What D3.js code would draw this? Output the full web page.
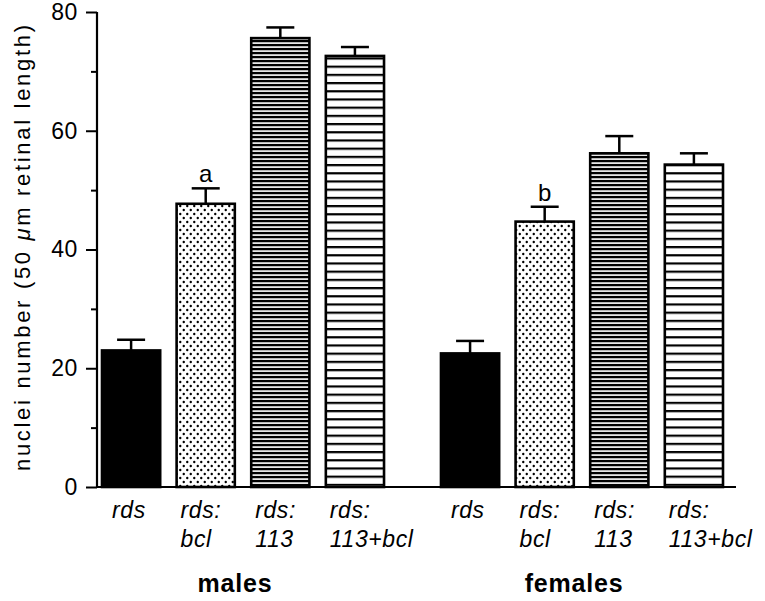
<!DOCTYPE html>
<html>
<head>
<meta charset="utf-8">
<script src="https://cdn.jsdelivr.net/npm/d3@7"></script>
<style>
html,body{margin:0;padding:0;background:#fff;}
svg{display:block;}
</style>
</head>
<body>
<svg id="chart" width="765" height="601"></svg>
<script>
// ---- data ----
const groups = ["males", "females"];
const categories = ["rds", "rds:bcl", "rds:113", "rds:113+bcl"];
const labelLine1 = ["rds", "rds:", "rds:", "rds:"];
const labelLine2 = ["", "bcl", "113", "113+bcl"];
const malesMean = [23.0, 47.7, 75.6, 72.6];
const malesErr = [1.8, 2.6, 1.8, 1.5];
const femalesMean = [22.5, 44.7, 56.2, 54.3];
const femalesErr = [2.1, 2.5, 2.9, 1.9];
const annotations = [["", "a", "", ""], ["", "b", "", ""]];
const yTicks = [0, 20, 40, 60, 80];
const yMinorTicks = [10, 30, 50, 70];
const yTitle = "nuclei number (50 μm retinal length)";

const rows = [];
groups.forEach((g, gi) => {
  const means = gi === 0 ? malesMean : femalesMean;
  const errs = gi === 0 ? malesErr : femalesErr;
  categories.forEach((c, ci) => {
    rows.push({group: g, cat: c, ci, mean: means[ci], err: errs[ci], note: annotations[gi][ci]});
  });
});

const FONT = "Liberation Sans, Arial, Helvetica, sans-serif";
const svg = d3.select("#chart");
const axisX = 97, axisRight = 736;
const y = d3.scaleLinear().domain([0, 80]).range([487, 12]);
const xOuter = d3.scaleBand().domain(groups).range([102, 723]).paddingInner(0.168).paddingOuter(0);
const xInner = d3.scaleBand().domain(categories).range([0, xOuter.bandwidth()]).paddingInner(0.22).paddingOuter(0);

// ---- patterns ----
const defs = svg.append("defs");
const pDots = defs.append("pattern").attr("id", "dots").attr("patternUnits", "userSpaceOnUse")
  .attr("width", 7).attr("height", 8);
pDots.append("rect").attr("width", 7).attr("height", 8).attr("fill", "#fff");
pDots.append("circle").attr("cx", 1.75).attr("cy", 2).attr("r", 1.2).attr("fill", "#000");
pDots.append("circle").attr("cx", 5.25).attr("cy", 6).attr("r", 1.2).attr("fill", "#000");

const pDense = defs.append("pattern").attr("id", "dense").attr("patternUnits", "userSpaceOnUse")
  .attr("width", 8).attr("height", 4);
pDense.append("rect").attr("width", 8).attr("height", 4).attr("fill", "#e6e6e6");
pDense.append("rect").attr("y", 0).attr("width", 8).attr("height", 2.2).attr("fill", "#000");

const pSparse = defs.append("pattern").attr("id", "sparse").attr("patternUnits", "userSpaceOnUse")
  .attr("width", 8).attr("height", 8.2);
pSparse.append("rect").attr("width", 8).attr("height", 8.2).attr("fill", "#fff");
pSparse.append("rect").attr("y", 0).attr("width", 8).attr("height", 2.2).attr("fill", "#000");

const fills = {"rds": "#000", "rds:bcl": "url(#dots)", "rds:113": "url(#dense)", "rds:113+bcl": "url(#sparse)"};

const bx = d => xOuter(d.group) + xInner(d.cat);
const bw = xInner.bandwidth();

// ---- error bars ----
const eg = svg.append("g").attr("stroke", "#000").attr("stroke-width", 2.5);
eg.selectAll("line.v").data(rows).join("line").attr("class", "v")
  .attr("x1", d => bx(d) + bw / 2).attr("x2", d => bx(d) + bw / 2)
  .attr("y1", d => y(d.mean)).attr("y2", d => y(d.mean + d.err));
eg.selectAll("line.cap").data(rows).join("line").attr("class", "cap")
  .attr("x1", d => bx(d) + bw / 2 - 14).attr("x2", d => bx(d) + bw / 2 + 14)
  .attr("y1", d => y(d.mean + d.err)).attr("y2", d => y(d.mean + d.err));

// ---- bars ----
svg.append("g").selectAll("rect").data(rows).join("rect")
  .attr("x", d => bx(d)).attr("width", bw)
  .attr("y", d => y(d.mean)).attr("height", d => y(0) - y(d.mean))
  .attr("fill", d => fills[d.cat]).attr("stroke", "#000").attr("stroke-width", 2.6);

// ---- annotations ----
svg.append("g").selectAll("text").data(rows.filter(d => d.note)).join("text")
  .attr("x", d => bx(d) + bw / 2).attr("y", d => y(d.mean + d.err) - 6)
  .attr("text-anchor", "middle").attr("font-family", FONT)
  .attr("font-size", 24).text(d => d.note);

// ---- axes ----
const yAxis = d3.axisLeft(y).tickValues(yTicks).tickSize(11).tickPadding(8).tickFormat(d3.format("d"));
const gy = svg.append("g").attr("transform", `translate(${axisX},0)`).call(yAxis);
gy.select(".domain").remove();
gy.selectAll(".tick line").attr("stroke-width", 2);
gy.selectAll(".tick text").attr("font-family", FONT).attr("font-size", 23)
  .attr("letter-spacing", 0.6).attr("fill", "#000");
const yMinor = d3.axisLeft(y).tickValues(yMinorTicks).tickSize(6).tickFormat("");
const gym = svg.append("g").attr("transform", `translate(${axisX},0)`).call(yMinor);
gym.select(".domain").remove();
gym.selectAll(".tick line").attr("stroke-width", 2);

svg.append("line").attr("x1", axisX).attr("x2", axisX).attr("y1", y(80)).attr("y2", y(0) + 1)
  .attr("stroke", "#000").attr("stroke-width", 2.2);
svg.append("line").attr("x1", axisX - 1).attr("x2", axisRight).attr("y1", y(0)).attr("y2", y(0))
  .attr("stroke", "#000").attr("stroke-width", 2.2);

// ---- y title ----
const yt = svg.append("text").attr("transform", "translate(30,248) rotate(-90)")
  .attr("text-anchor", "middle").attr("font-family", FONT)
  .attr("font-size", 22).attr("textLength", 446).attr("lengthAdjust", "spacing");
const parts = yTitle.split("μ");
yt.append("tspan").text(parts[0]);
yt.append("tspan").attr("font-style", "italic").text("μ");
yt.append("tspan").text(parts[1]);

// ---- category labels ----
const lab = svg.append("g").attr("font-family", FONT)
  .attr("font-style", "italic").attr("font-size", 23).attr("letter-spacing", 0.6);
lab.selectAll("text.l1").data(rows).join("text").attr("class", "l1")
  .attr("x", d => bx(d) + (d.ci === 0 ? 10 : 4)).attr("y", 518)
  .text(d => labelLine1[d.ci]);
lab.selectAll("text.l2").data(rows).join("text").attr("class", "l2")
  .attr("x", d => bx(d) + (d.ci === 0 ? 10 : 4)).attr("y", 547)
  .text(d => labelLine2[d.ci]);

// ---- group labels ----
svg.append("g").selectAll("text").data(groups).join("text")
  .attr("x", g => xOuter(g) + xOuter.bandwidth() / 2 - 8).attr("y", 592)
  .attr("text-anchor", "middle").attr("font-family", FONT)
  .attr("font-weight", "bold").attr("font-size", 25).attr("letter-spacing", 0.8)
  .text(g => g);
</script>
</body>
</html>
